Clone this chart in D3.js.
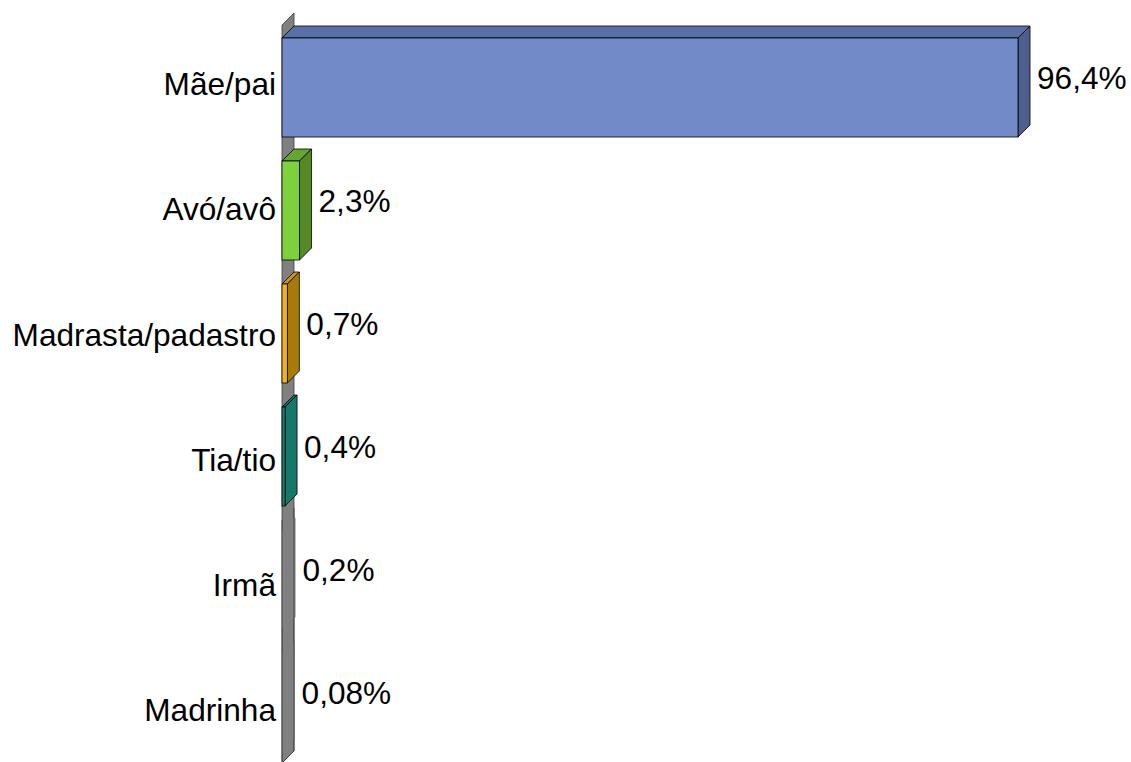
<!DOCTYPE html>
<html>
<head>
<meta charset="utf-8">
<script src="https://cdn.jsdelivr.net/npm/d3@7"></script>
<style>
  body { margin: 0; background: #fff; }
  svg { display: block; font-family: "Liberation Sans", Arial, sans-serif; }
</style>
</head>
<body>
<svg id="chart" width="1131" height="762"></svg>
<script>
// data
const categories = ['Mãe/pai', 'Avó/avô', 'Madrasta/padastro', 'Tia/tio', 'Irmã', 'Madrinha'];
const values = [96.4, 2.3, 0.7, 0.4, 0.2, 0.08];
const valueLabels = ['96,4%', '2,3%', '0,7%', '0,4%', '0,2%', '0,08%'];
// front / top / side colours per bar
const frontColors = ['#728bc8', '#7ed03c', '#f2b21c', '#1a8070', '#808080', '#808080'];
const topColors = ['#5a6fa8', '#63a632', '#c89410', '#156e60', '#808080', '#808080'];
const sideColors = ['#4d5e8f', '#558a29', '#a87a08', '#16776a', '#808080', '#808080'];
const edgeColors = ['#000', '#000', '#000', '#000', 'none', 'none'];

const svg = d3.select('#chart');
const depthX = 12, depthY = -12;

const x = d3.scaleLinear().domain([0, 96.4]).range([282, 1018]);
const y = d3.scaleBand().domain(categories).range([26, 764])
    .paddingInner(0.195).paddingOuter(0.0975);
// category labels sit on a slightly wider spacing
const yLabel = d3.scaleBand().domain(categories).range([21.4, 773]);

const data = categories.map((c, i) => ({
    cat: c, value: values[i], label: valueLabels[i],
    front: frontColors[i], top: topColors[i], side: sideColors[i], edge: edgeColors[i]
}));

// gray wall
const wx = x(0), wTop = 25, wBot = 763;
const wallPath = `M${wx},${wTop} L${wx + depthX},${wTop + depthY} L${wx + depthX},${wBot + depthY} L${wx},${wBot} Z`;
svg.append('path')
    .attr('d', wallPath)
    .attr('fill', '#808080')
    .attr('stroke', '#3a3a3a')
    .attr('stroke-width', 0.8);

const bars = svg.append('g').selectAll('g.bar')
    .data(data)
    .enter()
    .append('g')
    .attr('class', 'bar');

const poly = pts => 'M' + pts.map(p => p.join(',')).join('L') + 'Z';

// top face
bars.append('path')
    .attr('d', d => {
        const x0 = x(0), x1 = x(d.value), y0 = y(d.cat);
        return poly([[x0, y0], [x0 + depthX, y0 + depthY], [x1 + depthX, y0 + depthY], [x1, y0]]);
    })
    .attr('fill', d => d.top)
    .attr('stroke', d => d.edge)
    .attr('stroke-width', 0.8)
    .attr('stroke-linejoin', 'round');

// side face
bars.append('path')
    .attr('d', d => {
        const x1 = x(d.value), y0 = y(d.cat), y1 = y0 + y.bandwidth();
        return poly([[x1, y0], [x1 + depthX, y0 + depthY], [x1 + depthX, y1 + depthY], [x1, y1]]);
    })
    .attr('fill', d => d.side)
    .attr('stroke', d => d.edge)
    .attr('stroke-width', 0.8)
    .attr('stroke-linejoin', 'round');

// front face
bars.append('rect')
    .attr('x', x(0))
    .attr('y', d => y(d.cat))
    .attr('width', d => x(d.value) - x(0))
    .attr('height', y.bandwidth())
    .attr('fill', d => d.front)
    .attr('stroke', d => d.edge)
    .attr('stroke-width', 0.8);

// redraw the wall outline over the tiny gray bars at the bottom
svg.append('path')
    .attr('d', `M${wx + depthX},${y('Irmã') + depthY - 10} L${wx + depthX},${wBot + depthY} L${wx},${wBot} L${wx},${y('Irmã') - 10}`)
    .attr('fill', 'none')
    .attr('stroke', '#3a3a3a')
    .attr('stroke-width', 0.8);

// value labels
svg.append('g').selectAll('text')
    .data(data)
    .enter()
    .append('text')
    .attr('x', d => x(d.value) + depthX + 7)
    .attr('y', d => y(d.cat) + y.bandwidth() / 2 + 1)
    .text(d => d.label)
    .style('font-size', '31.6px')
    .style('fill', '#000');

// category labels
svg.append('g').selectAll('text')
    .data(categories)
    .enter()
    .append('text')
    .attr('x', 276)
    .attr('y', d => yLabel(d) + yLabel.bandwidth() / 2 + 11)
    .attr('text-anchor', 'end')
    .text(d => d)
    .style('font-size', '31.6px')
    .style('fill', '#000');
</script>
</body>
</html>
